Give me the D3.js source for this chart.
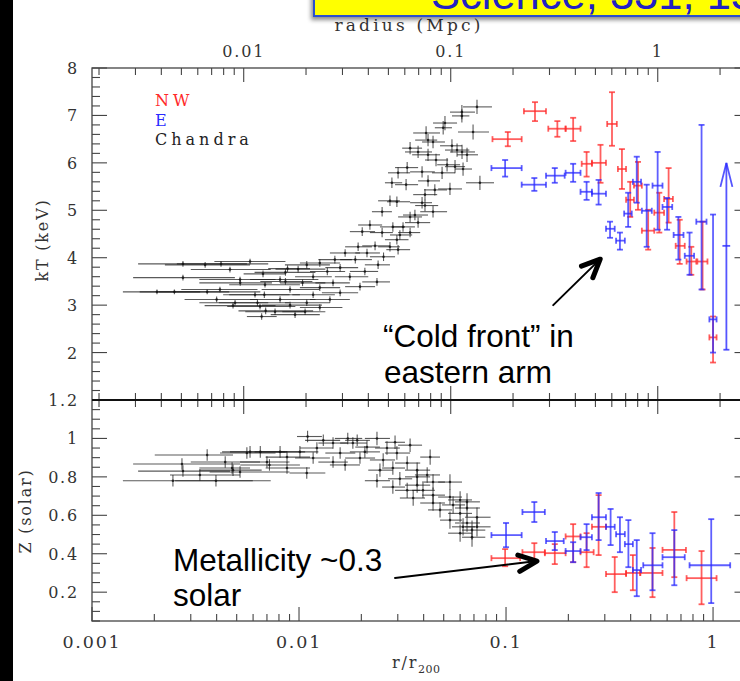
<!DOCTYPE html>
<html><head><meta charset="utf-8">
<script src="https://cdn.jsdelivr.net/npm/d3@7/dist/d3.min.js"></script>
<style>
html,body{margin:0;padding:0;background:#fff;overflow:hidden}
svg{display:block}
</style></head><body>
<svg id="chart" width="740" height="681"></svg>
<script>
// ---- data: r/r200 with radial bin edges, value, error ----
// Chandra temperature profile [r, rlo, rhi, kT, dkT]
const chandraKT = [
[0.00275,0.00167,0.0056,3.87,0.06],[0.0042,0.00257,0.0071,3.87,0.06],[0.00275,0.00158,0.0049,3.58,0.06],
[0.00206,0.00141,0.00333,3.28,0.05],[0.0025,0.0017,0.0046,3.28,0.05],[0.0036,0.0021,0.0065,3.28,0.05],
[0.0052,0.0033,0.0074,3.47,0.06],[0.0040,0.0028,0.0063,3.12,0.06],[0.0048,0.0035,0.0077,2.99,0.06],
[0.0069,0.0051,0.0117,2.88,0.07],[0.0066,0.0056,0.0078,2.76,0.07],[0.0067,0.0054,0.0086,3.66,0.07],
[0.0088,0.0071,0.0113,3.77,0.07],[0.0081,0.0058,0.0124,3.54,0.07],[0.0068,0.0046,0.0101,3.22,0.07],
[0.0063,0.0041,0.009,3.05,0.07],
[0.0724,0.062,0.0855,7.18,0.15],[0.0612,0.0536,0.0708,7.07,0.15],[0.0612,0.0548,0.0665,6.99,0.14],
[0.0507,0.0444,0.058,6.84,0.15],[0.0497,0.0453,0.0548,6.74,0.14],[0.0693,0.0586,0.0828,6.65,0.16],
[0.0411,0.0356,0.048,6.63,0.14],[0.042,0.0364,0.0465,6.48,0.13],[0.0444,0.0393,0.0507,6.44,0.13],
[0.0548,0.048,0.0613,6.36,0.14],[0.058,0.0507,0.0665,6.27,0.14],[0.0613,0.0536,0.0708,6.23,0.15],
[0.0344,0.0315,0.0393,6.31,0.13],[0.0376,0.0325,0.0439,6.23,0.13],[0.042,0.0352,0.048,6.17,0.13],
[0.0648,0.058,0.0732,6.17,0.15],[0.0459,0.0406,0.0525,6.06,0.13],[0.0519,0.0465,0.06,5.96,0.14],
[0.0567,0.0507,0.0634,5.92,0.14],[0.0333,0.0291,0.0376,5.90,0.12],[0.0393,0.0344,0.0453,5.81,0.12],
[0.062,0.0567,0.0685,5.87,0.14],[0.0491,0.0439,0.0567,5.79,0.13],[0.0301,0.0269,0.0344,5.79,0.12],
[0.0281,0.026,0.0315,5.58,0.11],[0.0329,0.0291,0.0376,5.54,0.12],[0.042,0.0376,0.048,5.62,0.12],
[0.0748,0.0641,0.0875,5.58,0.15],[0.0453,0.0402,0.0519,5.43,0.12],[0.0536,0.047,0.0613,5.45,0.13],
[0.0406,0.0356,0.0465,5.33,0.12],[0.0275,0.0241,0.0307,5.20,0.11],[0.0297,0.0266,0.0344,5.18,0.11],
[0.0393,0.0344,0.0439,5.16,0.12],[0.0406,0.0364,0.047,5.10,0.12],[0.0252,0.0225,0.0281,4.97,0.10],
[0.0344,0.0301,0.0393,4.86,0.11],[0.0363,0.0318,0.042,4.90,0.11],[0.0444,0.0385,0.0519,4.97,0.12],
[0.0376,0.0325,0.043,4.74,0.11],[0.022,0.0193,0.0252,4.69,0.10],[0.0284,0.0246,0.0325,4.65,0.10],
[0.0318,0.0281,0.0363,4.65,0.10],[0.0202,0.0176,0.0233,4.55,0.09],[0.0252,0.022,0.0284,4.53,0.10],
[0.0307,0.0275,0.0352,4.48,0.10],[0.0344,0.0301,0.0385,4.53,0.10],[0.0297,0.026,0.0338,4.38,0.10],
[0.0193,0.0167,0.0225,4.23,0.09],[0.0233,0.0202,0.0275,4.25,0.09],[0.0275,0.0241,0.0307,4.23,0.10],
[0.0301,0.0264,0.0344,4.17,0.10],[0.0167,0.0141,0.0197,4.10,0.08],[0.0213,0.0187,0.0246,4.10,0.09],
[0.0256,0.022,0.0291,4.02,0.09],[0.0149,0.0124,0.018,3.96,0.08],[0.0187,0.0158,0.0225,3.96,0.08],
[0.0241,0.0208,0.0275,3.85,0.09],[0.0126,0.0101,0.0158,3.89,0.08],[0.0109,0.00855,0.0141,3.85,0.08],
[0.0158,0.0134,0.0193,3.79,0.08],[0.0208,0.0176,0.0241,3.71,0.08],[0.0137,0.0113,0.0167,3.71,0.08],
[0.0117,0.00957,0.0144,3.60,0.07],[0.0176,0.0149,0.0216,3.60,0.08],[0.0238,0.0202,0.0275,3.49,0.08],
[0.0146,0.012,0.0176,3.47,0.07],[0.0104,0.0081,0.0134,3.47,0.07],[0.0197,0.0167,0.0233,3.39,0.08],
[0.0126,0.0101,0.0158,3.37,0.07],[0.0158,0.0129,0.0193,3.26,0.07],[0.0117,0.00928,0.0149,3.22,0.07],
[0.0141,0.0113,0.0176,3.12,0.07],[0.0109,0.00855,0.0141,3.05,0.07],[0.0126,0.0101,0.0162,2.95,0.07],
[0.0107,0.0083,0.0134,2.86,0.07],
[0.00352,0.00225,0.0058,3.85,0.06],[0.00464,0.003,0.0073,3.75,0.06],[0.0058,0.0039,0.0086,3.92,0.06],
[0.0086,0.0061,0.012,3.69,0.07],[0.00519,0.0033,0.0077,3.54,0.06],[0.00685,0.0046,0.0101,3.43,0.06],
[0.00905,0.0066,0.0126,3.33,0.07],[0.00415,0.0027,0.0063,3.33,0.06],[0.00613,0.0043,0.009,3.22,0.06],
[0.0081,0.0058,0.012,3.12,0.07],[0.00491,0.0033,0.0071,3.05,0.06],[0.00648,0.0045,0.0096,2.97,0.06],
[0.00905,0.0066,0.0129,3.00,0.07],[0.00766,0.0055,0.0107,2.86,0.07],[0.00957,0.0073,0.0126,2.80,0.07],
[0.0099,0.0077,0.0134,3.76,0.07],[0.0086,0.0065,0.0116,3.50,0.07]
];

// Chandra metallicity profile [r, rlo, rhi, Z, dZ]
const chandraZ = [
[0.0036,0.00201,0.0048,0.914,0.03],[0.00246,0.00141,0.00598,0.78,0.03],[0.00397,0.00252,0.0073,0.78,0.03],
[0.00272,0.00158,0.00519,0.867,0.03],[0.00275,0.00167,0.00464,0.83,0.03],[0.00475,0.0033,0.0058,0.846,0.03],
[0.0058,0.00425,0.00875,0.93,0.03],[0.00519,0.0037,0.009,0.825,0.03],[0.00332,0.00238,0.00519,0.81,0.03],
[0.0044,0.003,0.00648,0.877,0.03],[0.011,0.00978,0.0129,1.01,0.03],[0.0172,0.0149,0.0202,1.0,0.03],
[0.0238,0.0208,0.0275,1.0,0.035],[0.0146,0.0124,0.0172,0.976,0.03],[0.0182,0.0158,0.0213,0.976,0.03],
[0.0213,0.0187,0.0246,0.955,0.035],[0.0266,0.0233,0.0307,0.95,0.035],[0.0122,0.0101,0.0146,0.95,0.03],
[0.0101,0.0081,0.0124,0.93,0.03],[0.0081,0.0061,0.0107,0.93,0.03],[0.0065,0.00464,0.0086,0.93,0.03],
[0.0056,0.00415,0.0077,0.924,0.03],[0.0158,0.0134,0.0187,0.924,0.03],[0.0297,0.026,0.0344,0.924,0.035],
[0.043,0.0385,0.048,0.903,0.04],[0.00875,0.0069,0.0113,0.903,0.03],[0.0117,0.00957,0.0141,0.898,0.03],
[0.0197,0.0167,0.0233,0.898,0.03],[0.0255,0.022,0.0291,0.888,0.035],[0.0333,0.0291,0.0385,0.872,0.035],
[0.007,0.00519,0.009,0.877,0.03],[0.0146,0.0124,0.0172,0.877,0.03],[0.0284,0.0252,0.0325,0.846,0.035],
[0.0372,0.0325,0.043,0.835,0.04],[0.0109,0.009,0.0134,0.82,0.03],[0.00875,0.0069,0.0113,0.846,0.03],
[0.0048,0.0033,0.0066,0.835,0.03],[0.0307,0.0269,0.0352,0.79,0.035],[0.0238,0.0208,0.0275,0.78,0.035],
[0.0444,0.0393,0.0507,0.773,0.04],[0.0536,0.047,0.0613,0.773,0.04],[0.0372,0.0325,0.043,0.757,0.04],
[0.0284,0.0252,0.0325,0.747,0.035],[0.0333,0.0291,0.0385,0.73,0.04],[0.0397,0.0352,0.0453,0.73,0.04],
[0.0444,0.0393,0.0507,0.705,0.04],[0.0356,0.0307,0.0406,0.69,0.04],[0.0536,0.047,0.0613,0.695,0.04],
[0.06,0.0525,0.0685,0.68,0.045],[0.0444,0.0385,0.0507,0.664,0.04],[0.0555,0.0491,0.0634,0.654,0.045],
[0.0648,0.0567,0.0748,0.638,0.045],[0.048,0.042,0.0548,0.628,0.04],[0.06,0.0525,0.0685,0.61,0.045],
[0.0724,0.0634,0.0842,0.59,0.05],[0.0536,0.048,0.0613,0.575,0.045],[0.0648,0.0567,0.0748,0.56,0.045],
[0.062,0.0548,0.0708,0.54,0.045],[0.0724,0.0634,0.0842,0.54,0.05],[0.06,0.0525,0.0685,0.507,0.045],
[0.0685,0.0613,0.0794,0.486,0.05],[0.0685,0.0613,0.0794,0.523,0.05],[0.0372,0.0325,0.043,0.80,0.04],
[0.0648,0.0567,0.0748,0.67,0.045],[0.0131,0.0107,0.0158,0.99,0.03],[0.0208,0.0176,0.0246,0.93,0.03],
[0.0167,0.0141,0.0197,0.862,0.03],[0.0072,0.0052,0.0101,0.862,0.03],[0.0246,0.0216,0.0284,0.835,0.035],
[0.0416,0.0363,0.048,0.81,0.04],[0.0191,0.0167,0.022,0.99,0.03],[0.0291,0.026,0.0325,0.98,0.035],
[0.0344,0.0301,0.0393,0.965,0.035]
];

// Suzaku profiles [r, rlo, rhi, value, lo, hi]
const nwKT = [
[0.102,0.086,0.119,6.50,6.35,6.65],[0.138,0.122,0.156,7.09,6.88,7.28],[0.177,0.16,0.194,6.72,6.55,6.88],
[0.211,0.194,0.229,6.72,6.46,6.95],[0.245,0.232,0.26,5.98,5.71,6.23],[0.286,0.26,0.304,6.00,5.58,6.38],
[0.325,0.308,0.343,6.82,6.36,7.49],[0.363,0.347,0.38,5.87,5.45,6.29],[0.398,0.38,0.415,5.22,4.86,5.60],
[0.434,0.415,0.453,5.52,5.01,6.02],[0.486,0.453,0.52,4.57,4.17,5.01],[0.55,0.52,0.58,4.95,4.53,5.37],
[0.61,0.58,0.64,5.24,4.74,5.89],[0.69,0.66,0.73,4.25,3.87,4.80],[0.785,0.745,0.83,3.92,3.64,4.23],
[0.89,0.84,0.94,3.92,3.33,4.76],[1.0,0.96,1.04,2.32,1.79,2.76]
];
const eKT = [
[0.099,0.085,0.119,5.89,5.71,6.06],[0.137,0.119,0.156,5.54,5.41,5.68],[0.172,0.156,0.192,5.73,5.58,5.89],
[0.211,0.194,0.229,5.79,5.60,5.98],[0.245,0.229,0.26,5.39,5.22,5.60],[0.28,0.26,0.304,5.35,5.12,5.64],
[0.318,0.304,0.335,4.61,4.42,4.76],[0.355,0.34,0.375,4.36,4.17,4.53],[0.389,0.372,0.405,4.93,4.65,5.37],
[0.428,0.41,0.449,5.60,5.16,6.13],[0.478,0.453,0.506,4.99,4.23,5.54],[0.54,0.51,0.57,5.52,4.59,6.23],
[0.60,0.57,0.635,5.07,4.59,5.26],[0.68,0.645,0.72,4.48,3.96,4.86],[0.77,0.73,0.81,4.04,3.64,4.53],
[0.88,0.83,0.93,4.76,3.33,6.80],[1.0,0.96,1.04,2.70,2.00,4.91]
];
// outermost E bin, shown with an upward arrow
const eKTarrow = [[1.16,1.11,1.21,4.25,2.06,6.00]];
const nwZ = [
[0.099,0.085,0.117,0.377,0.335,0.424],[0.137,0.12,0.154,0.408,0.356,0.455],[0.172,0.154,0.194,0.403,0.346,0.45],
[0.211,0.194,0.229,0.49,0.356,0.554],[0.245,0.229,0.265,0.408,0.33,0.507],[0.28,0.26,0.304,0.54,0.393,0.705],
[0.335,0.304,0.38,0.294,0.2,0.383],[0.41,0.38,0.445,0.30,0.21,0.393],[0.51,0.445,0.57,0.30,0.174,0.43],
[0.65,0.57,0.74,0.42,0.278,0.617],[0.88,0.745,1.04,0.273,0.137,0.414]
];
const eZ = [
[0.10,0.085,0.119,0.497,0.434,0.56],[0.137,0.12,0.154,0.617,0.565,0.669],[0.172,0.156,0.19,0.466,0.419,0.513],
[0.211,0.194,0.229,0.414,0.356,0.46],[0.245,0.229,0.26,0.486,0.419,0.554],[0.28,0.26,0.304,0.59,0.471,0.716],
[0.32,0.304,0.335,0.54,0.445,0.633],[0.355,0.34,0.375,0.502,0.408,0.59],[0.39,0.375,0.41,0.45,0.33,0.575],
[0.428,0.41,0.449,0.315,0.179,0.471],[0.51,0.46,0.57,0.34,0.21,0.507],[0.65,0.57,0.73,0.382,0.236,0.523],
[0.98,0.77,1.21,0.34,0.143,0.58]
];

// axis tick labels
const rTickValues = [0.001, 0.01, 0.1, 1];
const rTickLabels = ["0.001", "0.01", "0.1", "1"];
const mpcTickValues = [0.01, 0.1, 1];
const mpcTickLabels = ["0.01", "0.1", "1"];
const kTTickValues = [2, 3, 4, 5, 6, 7, 8];
const zTickValues = [0.2, 0.4, 0.6, 0.8, 1, 1.2];
const zTickLabels = ["0.2", "0.4", "0.6", "0.8", "1", "1.2"];
const legendItems = [["NW", "#ff2a2a"], ["E", "#2a2aff"], ["Chandra", "#222"]];

const R200 = 1.85; // Mpc, converts r/r200 to physical radius on the top axis

// ---- layout ----
const svg = d3.select("#chart");
const L = 92, Rgt = 749.5, T = 68, M = 400, B = 621;
const x = d3.scaleLog().domain([0.001, 1.5]).range([L, Rgt]);
const xMpc = d3.scaleLog().domain([0.001 * R200, 1.5 * R200]).range([L, Rgt]);
const yT = d3.scaleLinear().domain([1, 8]).range([M, T]);
const yZ = d3.scaleLinear().domain([0.05, 1.2]).range([B, M]);

const serif = "DejaVu Serif, Liberation Serif, serif";
const sans = "Liberation Sans, Arial, sans-serif";

const defs = svg.append("defs");
const f = defs.append("filter").attr("id", "shadow").attr("x", "-10%").attr("y", "-50%").attr("width", "120%").attr("height", "200%");
f.append("feDropShadow").attr("dx", -2).attr("dy", 3).attr("stdDeviation", 2).attr("flood-color", "#000").attr("flood-opacity", 0.45);

// dark strip along the left edge
svg.append("rect").attr("x", 0).attr("y", 0).attr("width", 13).attr("height", 681).attr("fill", "#000");

// ---- tick helpers ----
function minorLog(lo, hi) {
  const out = [];
  for (let d = 1e-4; d < 100; d *= 10)
    for (let k = 1; k < 10; k++) { const v = +(d * k).toPrecision(3); if (v >= lo && v <= hi) out.push(v); }
  return out;
}
const axes = svg.append("g").attr("stroke", "#444").attr("stroke-width", 1.1);
function hTicks(scale, vals, y0, len) {
  axes.append("g").selectAll("line").data(vals).join("line")
    .attr("x1", d => scale(d)).attr("x2", d => scale(d)).attr("y1", y0).attr("y2", y0 + len);
}
function vTicks(scale, vals, x0, len) {
  axes.append("g").selectAll("line").data(vals).join("line")
    .attr("y1", d => scale(d)).attr("y2", d => scale(d)).attr("x1", x0).attr("x2", x0 + len);
}
const mpcAll = minorLog(xMpc.domain()[0], xMpc.domain()[1]);
const mpcMinor = mpcAll.filter(v => !mpcTickValues.includes(v));
const rAll = minorLog(0.001, 1.5);
const rMinor = rAll.filter(v => !rTickValues.includes(v));

// top frame: Mpc ticks
hTicks(xMpc, mpcMinor, T, 7); hTicks(xMpc, mpcTickValues, T, 14);
// shared middle edge
hTicks(xMpc, mpcMinor, M, -7); hTicks(xMpc, mpcTickValues, M, -14);
hTicks(xMpc, mpcMinor, M, 7); hTicks(xMpc, mpcTickValues, M, 14);
// bottom frame: r/r200 ticks
hTicks(x, rMinor, B, -7); hTicks(x, rTickValues, B, -14);
// left/right ticks
const kTMinor = d3.range(1.2, 8, 0.2).filter(v => Math.abs(v - Math.round(v)) > 0.01);
const zMinor = d3.range(0.05, 1.2, 0.05).filter(v => Math.abs(v * 5 - Math.round(v * 5)) > 0.01);
vTicks(yT, kTMinor, L, 8); vTicks(yT, kTTickValues, L, 15);
vTicks(yT, kTMinor, Rgt, -8); vTicks(yT, kTTickValues, Rgt, -15);
vTicks(yZ, zMinor, L, 8); vTicks(yZ, zTickValues, L, 15);
vTicks(yZ, zMinor, Rgt, -8); vTicks(yZ, zTickValues, Rgt, -15);

// frame
svg.append("rect").attr("x", L).attr("y", T).attr("width", Rgt - L).attr("height", B - T)
  .attr("fill", "none").attr("stroke", "#444").attr("stroke-width", 1.3);
svg.append("line").attr("x1", L).attr("x2", Rgt).attr("y1", M).attr("y2", M)
  .attr("stroke", "#111").attr("stroke-width", 2.2);

// ---- tick labels ----
const lab = svg.append("g").attr("font-family", serif).attr("fill", "#333").attr("letter-spacing", 1.8);
lab.selectAll(".mt").data(mpcTickValues).join("text").attr("x", d => xMpc(d)).attr("y", 57)
  .attr("text-anchor", "middle").attr("font-size", 16).text((d, i) => mpcTickLabels[i]);
lab.selectAll(".rt").data(rTickValues).join("text").attr("x", d => x(d)).attr("y", 648)
  .attr("text-anchor", "middle").attr("font-size", 17.5).text((d, i) => rTickLabels[i]);
lab.selectAll(".kt").data(kTTickValues).join("text").attr("x", 79).attr("y", d => yT(d) + 6)
  .attr("text-anchor", "end").attr("font-size", 16).text(d => d);
lab.selectAll(".zt").data(zTickValues).join("text").attr("x", 79).attr("y", d => yZ(d) + 6)
  .attr("text-anchor", "end").attr("font-size", 16).text((d, i) => zTickLabels[i]);

// axis titles
lab.append("text").attr("x", 409).attr("y", 31).attr("text-anchor", "middle").attr("font-size", 17)
  .attr("letter-spacing", 3.2).text("radius (Mpc)");
lab.append("text").attr("transform", "translate(48,240) rotate(-90)").attr("text-anchor", "middle").attr("font-size", 16).text("kT (keV)");
lab.append("text").attr("transform", "translate(31,511) rotate(-90)").attr("text-anchor", "middle").attr("font-size", 16).text("Z (solar)");
const rt = lab.append("text").attr("x", 392).attr("y", 668).attr("font-size", 16);
rt.append("tspan").text("r/r");
rt.append("tspan").attr("font-size", 11).attr("dy", 5).attr("letter-spacing", 0.5).text("200");

// legend
svg.append("g").attr("font-family", serif).attr("font-size", 16).attr("letter-spacing", 4)
  .selectAll("text").data(legendItems).join("text")
  .attr("x", 155).attr("y", (d, i) => 106 + i * 19.5).attr("fill", d => d[1]).text(d => d[0]);

// ---- data marks ----
function chandra(rows, y) {
  const g = svg.append("g").attr("stroke", "#1a1a1a").attr("stroke-opacity", 0.72).attr("stroke-width", 1.1);
  g.selectAll(".h").data(rows).join("line")
    .attr("x1", d => x(d[1])).attr("x2", d => x(d[2])).attr("y1", d => y(d[3])).attr("y2", d => y(d[3]));
  g.selectAll(".v").data(rows).join("line")
    .attr("x1", d => x(d[0])).attr("x2", d => x(d[0])).attr("y1", d => y(d[3] - d[4])).attr("y2", d => y(d[3] + d[4]));
  svg.append("g").attr("fill", "#111").attr("fill-opacity", 0.8).selectAll("circle").data(rows).join("circle")
    .attr("cx", d => x(d[0])).attr("cy", d => y(d[3])).attr("r", 1.3);
}
function bars(rows, y, color) {
  const g = svg.append("g").attr("stroke", color).attr("stroke-opacity", 0.75).attr("stroke-width", 1.8);
  const c = 3;
  rows.forEach(d => {
    const cx = x(d[0]), cy = y(d[3]), xl = x(d[1]), xh = x(d[2]), yl = y(d[4]), yh = y(d[5]);
    g.append("line").attr("x1", xl).attr("x2", xh).attr("y1", cy).attr("y2", cy);
    g.append("line").attr("x1", cx).attr("x2", cx).attr("y1", yl).attr("y2", yh);
    g.append("line").attr("x1", xl).attr("x2", xl).attr("y1", cy - c).attr("y2", cy + c);
    g.append("line").attr("x1", xh).attr("x2", xh).attr("y1", cy - c).attr("y2", cy + c);
    g.append("line").attr("x1", cx - c).attr("x2", cx + c).attr("y1", yl).attr("y2", yl);
    g.append("line").attr("x1", cx - c).attr("x2", cx + c).attr("y1", yh).attr("y2", yh);
  });
}
function arrowBars(rows, y, color) {
  const g = svg.append("g").attr("stroke", color).attr("stroke-opacity", 0.8).attr("stroke-width", 1.8).attr("fill", "none");
  rows.forEach(d => {
    const cx = x(d[0]), cy = y(d[3]), xl = x(d[1]), xh = x(d[2]), yl = y(d[4]), yh = y(d[5]);
    g.append("line").attr("x1", xl).attr("x2", xh).attr("y1", cy).attr("y2", cy);
    g.append("line").attr("x1", cx).attr("x2", cx).attr("y1", yl).attr("y2", yh);
    g.append("line").attr("x1", cx - 3).attr("x2", cx + 3).attr("y1", yl).attr("y2", yl);
    g.append("path").attr("d", `M${cx - 6},${yh + 24}L${cx},${yh}L${cx + 6},${yh + 24}`);
  });
}

chandra(chandraKT, yT);
chandra(chandraZ, yZ);
bars(nwKT, yT, "#ff2a2a");
bars(nwZ, yZ, "#ff2a2a");
bars(eKT, yT, "#2a2aff");
bars(eZ, yZ, "#2a2aff");
arrowBars(eKTarrow, yT, "#2a2aff");

// ---- annotations ----
function arrow(x0, y0, x1, y1) {
  const g = svg.append("g").attr("stroke", "#000").attr("fill", "none").attr("stroke-linecap", "round").attr("stroke-linejoin", "round");
  g.append("line").attr("x1", x0).attr("y1", y0).attr("x2", x1).attr("y2", y1).attr("stroke-width", 2);
  const a = Math.atan2(y1 - y0, x1 - x0), len = 20, sp = 0.42;
  const p1 = [x1 - len * Math.cos(a - sp), y1 - len * Math.sin(a - sp)];
  const p2 = [x1 - len * Math.cos(a + sp), y1 - len * Math.sin(a + sp)];
  g.append("path").attr("d", `M${p1}L${x1},${y1}L${p2}`).attr("stroke-width", 5);
}
// cold front: from label toward the E temperature drop
arrow(x(0.169), yT(3.0), x(0.285), yT(3.97));
// metallicity: from label toward the flat outer Z profile
arrow(x(0.0291), yZ(0.274), x(0.141), yZ(0.362));

const ann = svg.append("g").attr("font-family", sans).attr("font-size", 31.5).attr("fill", "#000");
ann.append("text").attr("x", 383).attr("y", 347).text("\u201CCold front\u201D in");
ann.append("text").attr("x", 384).attr("y", 383).text("eastern arm");
ann.append("text").attr("x", 173).attr("y", 571).text("Metallicity ~0.3");
ann.append("text").attr("x", 173).attr("y", 606).text("solar");

// citation banner
svg.append("rect").attr("x", 314).attr("y", -30).attr("width", 460).attr("height", 46)
  .attr("fill", "#ffff00").attr("stroke", "#2c4fcf").attr("stroke-width", 2).attr("filter", "url(#shadow)");
svg.append("text").attr("x", 431).attr("y", 9).attr("font-family", sans).attr("font-size", 43.5)
  .attr("fill", "#2222c4").text("Science, 331, 1576");
</script>
</body></html>
